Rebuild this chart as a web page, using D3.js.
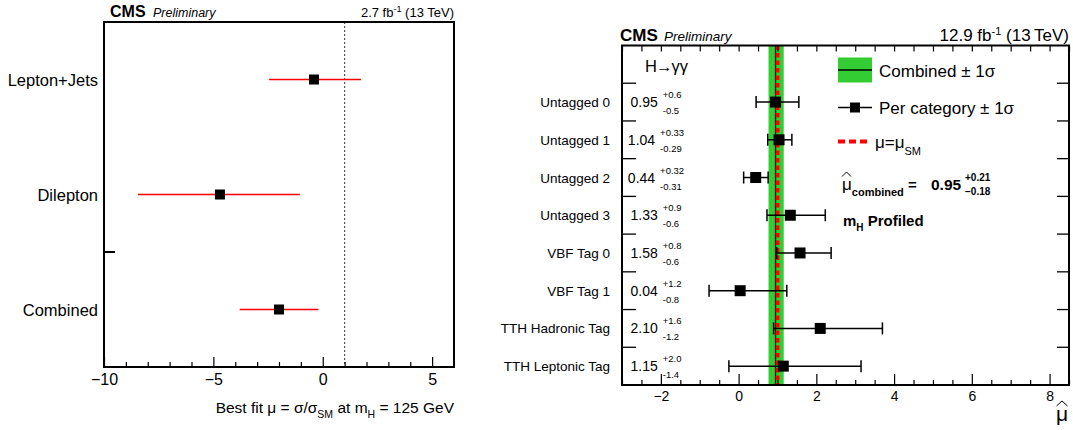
<!DOCTYPE html>
<html>
<head>
<meta charset="utf-8">
<script src="https://cdn.jsdelivr.net/npm/d3@7"></script>
<style>
  body { margin: 0; background: #fff; }
  svg { display: block; font-family: "Liberation Sans", Arial, Helvetica, sans-serif; }
</style>
</head>
<body>
<svg id="chart" width="1073" height="430"></svg>
<script>
// ---- left panel data (best fit mu per channel) ----
const leftCats = ["Lepton+Jets", "Dilepton", "Combined"];
const leftMu = [-0.4, -4.7, -2.0];
const leftLo = [-2.45, -8.45, -3.8];
const leftHi = [1.75, -1.05, -0.2];
const leftTicks = [-10, -5, 0, 5];

// ---- right panel data (H->gg per category) ----
const cats = ["Untagged 0", "Untagged 1", "Untagged 2", "Untagged 3",
              "VBF Tag 0", "VBF Tag 1", "TTH Hadronic Tag", "TTH Leptonic Tag"];
const muVals = [0.95, 1.04, 0.44, 1.33, 1.58, 0.04, 2.10, 1.15];
const errUp = [0.6, 0.33, 0.32, 0.9, 0.8, 1.2, 1.6, 2.0];
const errDn = [0.5, 0.29, 0.31, 0.6, 0.6, 0.8, 1.2, 1.4];
const muLabels = ["0.95", "1.04", "0.44", "1.33", "1.58", "0.04", "2.10", "1.15"];
const upLabels = ["+0.6", "+0.33", "+0.32", "+0.9", "+0.8", "+1.2", "+1.6", "+2.0"];
const dnLabels = ["-0.5", "-0.29", "-0.31", "-0.6", "-0.6", "-0.8", "-1.2", "-1.4"];
const rightTicks = [-2, 0, 2, 4, 6, 8];
const combMu = 0.95, combUp = 0.21, combDn = 0.18, smMu = 1;

const svg = d3.select("#chart");

// draws a wide ^ accent (ROOT style #hat)
function hat(g, cx, y, w, h) {
    g.append("path")
        .attr("d", `M${cx - w / 2},${y + h}L${cx},${y}L${cx + w / 2},${y + h}`)
        .attr("fill", "none").attr("stroke", "#000").attr("stroke-width", 1);
}

// ================= LEFT PANEL =================
const xL = d3.scaleLinear().domain([-10, 6]).range([104, 454]);
const yL = d3.scaleBand().domain(leftCats).range([22, 367]);
const gL = svg.append("g");

// SM reference line
gL.append("line")
    .attr("x1", xL(1)).attr("x2", xL(1))
    .attr("y1", yL.range()[0]).attr("y2", yL.range()[1])
    .attr("stroke", "#555").attr("stroke-width", 1.2)
    .attr("stroke-dasharray", "2,2");

// error bars + markers
gL.selectAll("line.err").data(leftCats).enter().append("line")
    .attr("class", "err")
    .attr("x1", (d, i) => xL(leftLo[i])).attr("x2", (d, i) => xL(leftHi[i]))
    .attr("y1", d => yL(d) + yL.bandwidth() / 2)
    .attr("y2", d => yL(d) + yL.bandwidth() / 2)
    .attr("stroke", "#f00").attr("stroke-width", 1.6);
gL.selectAll("rect.pt").data(leftCats).enter().append("rect")
    .attr("class", "pt")
    .attr("x", (d, i) => xL(leftMu[i]) - 5)
    .attr("y", d => yL(d) + yL.bandwidth() / 2 - 5)
    .attr("width", 10).attr("height", 10)
    .attr("fill", "#000");

// category labels
gL.selectAll("text.cat").data(leftCats).enter().append("text")
    .attr("class", "cat")
    .attr("x", 98)
    .attr("y", d => yL(d) + yL.bandwidth() / 2 + 6)
    .attr("text-anchor", "end")
    .attr("font-size", 16.5)
    .text(d => d);

// one stray y tick at boundary Dilepton/Combined
gL.append("line")
    .attr("x1", 104).attr("x2", 115)
    .attr("y1", yL("Combined")).attr("y2", yL("Combined"))
    .attr("stroke", "#000").attr("stroke-width", 2);

// x axis
const axL = gL.append("g").attr("transform", `translate(0,${yL.range()[1]})`)
    .call(d3.axisBottom(xL).tickValues(leftTicks).tickSize(-10).tickPadding(7)
        .tickFormat(d3.format("d")));
axL.select(".domain").remove();
axL.selectAll("text").attr("font-size", 16).attr("font-family", null).attr("fill", "#000");
axL.selectAll("line").attr("stroke-width", 1.2);
const axLm = gL.append("g").attr("transform", `translate(0,${yL.range()[1]})`)
    .call(d3.axisBottom(xL).tickValues(d3.range(-9, 6).filter(v => v % 5 !== 0))
        .tickSize(-5).tickFormat(""));
axLm.select(".domain").remove();
axLm.selectAll("line").attr("stroke-width", 1.2);

// frame
gL.append("rect")
    .attr("x", xL.range()[0]).attr("y", yL.range()[0])
    .attr("width", xL.range()[1] - xL.range()[0])
    .attr("height", yL.range()[1] - yL.range()[0])
    .attr("fill", "none").attr("stroke", "#000").attr("stroke-width", 2);

// header + title
gL.append("text").attr("x", 110).attr("y", 16.5)
    .attr("font-size", 16).attr("font-weight", "bold").text("CMS");
gL.append("text").attr("x", 153).attr("y", 16.5)
    .attr("font-size", 12.5).attr("font-style", "italic").text("Preliminary");
const lumiL = gL.append("text").attr("x", 454).attr("y", 16.5)
    .attr("text-anchor", "end").attr("font-size", 13);
lumiL.append("tspan").text("2.7 fb");
lumiL.append("tspan").attr("dy", -5).attr("font-size", 9).text("-1");
lumiL.append("tspan").attr("dy", 5).text(" (13 TeV)");

const titL = gL.append("text").attr("x", 454).attr("y", 413)
    .attr("text-anchor", "end").attr("font-size", 15.5);
titL.append("tspan").text("Best fit μ = σ/σ");
titL.append("tspan").attr("dy", 5).attr("font-size", 10.5).text("SM");
titL.append("tspan").attr("dy", -5).text(" at m");
titL.append("tspan").attr("dy", 5).attr("font-size", 10.5).text("H");
titL.append("tspan").attr("dy", -5).text(" = 125 GeV");

// ================= RIGHT PANEL =================
const xR = d3.scaleLinear().domain([-3, 8.5]).range([622, 1069]);
const yR = d3.scaleBand().domain(["top"].concat(cats)).range([45.5, 385]);
const gR = svg.append("g");
const yMid = d => yR(d) + yR.bandwidth() / 2;

// combined band
gR.append("rect")
    .attr("x", xR(combMu - combDn)).attr("width", xR(combMu + combUp) - xR(combMu - combDn))
    .attr("y", yR.range()[0]).attr("height", yR.range()[1] - yR.range()[0])
    .attr("fill", "#33cc33");
gR.append("line")
    .attr("x1", xR(combMu)).attr("x2", xR(combMu))
    .attr("y1", yR.range()[0]).attr("y2", yR.range()[1])
    .attr("stroke", "#000").attr("stroke-width", 1.3);
gR.append("line")
    .attr("x1", xR(smMu)).attr("x2", xR(smMu))
    .attr("y1", yR.range()[0]).attr("y2", yR.range()[1])
    .attr("stroke", "#f00").attr("stroke-width", 4)
    .attr("stroke-dasharray", "4.5,3");

// per-category error bars
const pts = gR.selectAll("g.pt").data(cats).enter().append("g").attr("class", "pt");
pts.append("line")
    .attr("x1", (d, i) => xR(muVals[i] - errDn[i]))
    .attr("x2", (d, i) => xR(muVals[i] + errUp[i]))
    .attr("y1", yMid).attr("y2", yMid)
    .attr("stroke", "#000").attr("stroke-width", 1.5);
pts.append("line")
    .attr("x1", (d, i) => xR(muVals[i] - errDn[i]))
    .attr("x2", (d, i) => xR(muVals[i] - errDn[i]))
    .attr("y1", d => yMid(d) - 6).attr("y2", d => yMid(d) + 6)
    .attr("stroke", "#000").attr("stroke-width", 1.5);
pts.append("line")
    .attr("x1", (d, i) => xR(muVals[i] + errUp[i]))
    .attr("x2", (d, i) => xR(muVals[i] + errUp[i]))
    .attr("y1", d => yMid(d) - 6).attr("y2", d => yMid(d) + 6)
    .attr("stroke", "#000").attr("stroke-width", 1.5);
pts.append("rect")
    .attr("x", (d, i) => xR(muVals[i]) - 5.5)
    .attr("y", d => yMid(d) - 5.5)
    .attr("width", 11).attr("height", 11)
    .attr("fill", "#000");

// category labels
gR.selectAll("text.cat").data(cats).enter().append("text")
    .attr("class", "cat")
    .attr("x", 610).attr("y", d => yMid(d) + 5)
    .attr("text-anchor", "end").attr("font-size", 13.5)
    .text(d => d);

// value labels with asymmetric errors
cats.forEach((c, i) => {
    const g = gR.append("g");
    const v = g.append("text").attr("x", 0).attr("y", yMid(c) + 5)
        .attr("font-size", 14).text(muLabels[i]);
    const w = v.node().getComputedTextLength() + 5;
    const su = g.append("text").attr("x", w).attr("y", yMid(c) - 4)
        .attr("font-size", 9.5).text(upLabels[i]);
    const sd = g.append("text").attr("x", w).attr("y", yMid(c) + 12)
        .attr("font-size", 9.5).text(dnLabels[i]);
    const tot = w + Math.max(su.node().getComputedTextLength(), sd.node().getComputedTextLength());
    g.attr("transform", `translate(${656 - tot / 2},0)`);
});

// y ticks at category boundaries, left and right
gR.selectAll("line.yl").data(cats).enter().append("line")
    .attr("x1", xR.range()[0]).attr("x2", xR.range()[0] + 14)
    .attr("y1", d => yR(d)).attr("y2", d => yR(d))
    .attr("stroke", "#000").attr("stroke-width", 1.3);
gR.selectAll("line.yr").data(cats).enter().append("line")
    .attr("x1", xR.range()[1]).attr("x2", xR.range()[1] - 12)
    .attr("y1", d => yR(d)).attr("y2", d => yR(d))
    .attr("stroke", "#000").attr("stroke-width", 1.3);

// x axis bottom
const minorR = d3.range(-3, 8.51, 0.5).filter(v => v % 2 !== 0);
const axR = gR.append("g").attr("transform", `translate(0,${yR.range()[1]})`)
    .call(d3.axisBottom(xR).tickValues(rightTicks).tickSize(-11).tickPadding(6)
        .tickFormat(d3.format("d")));
axR.select(".domain").remove();
axR.selectAll("text").attr("font-size", 14).attr("font-family", null).attr("fill", "#000");
axR.selectAll("line").attr("stroke-width", 1.2);
const axRm = gR.append("g").attr("transform", `translate(0,${yR.range()[1]})`)
    .call(d3.axisBottom(xR).tickValues(minorR).tickSize(-5).tickFormat(""));
axRm.select(".domain").remove();
axRm.selectAll("line").attr("stroke-width", 1.2);
// x axis top
const axRt = gR.append("g").attr("transform", `translate(0,${yR.range()[0]})`)
    .call(d3.axisTop(xR).tickValues(rightTicks.concat(minorR)).tickSize(-6).tickFormat(""));
axRt.select(".domain").remove();
axRt.selectAll("line").attr("stroke-width", 1.2);

// frame
gR.append("rect")
    .attr("x", xR.range()[0]).attr("y", yR.range()[0])
    .attr("width", xR.range()[1] - xR.range()[0])
    .attr("height", yR.range()[1] - yR.range()[0])
    .attr("fill", "none").attr("stroke", "#000").attr("stroke-width", 2);

// channel label
const hgg = gR.append("text").attr("x", 645).attr("y", 72).attr("font-size", 16.5);
hgg.append("tspan").text("H");
hgg.append("tspan").attr("dx", -1).text("→");
hgg.append("tspan").attr("dx", -1).text("γγ");

// legend
const lx = 838, lw = 34;
gR.append("rect").attr("x", lx).attr("y", 57.5).attr("width", lw).attr("height", 25)
    .attr("fill", "#33cc33");
gR.append("line").attr("x1", lx).attr("x2", lx + lw).attr("y1", 70).attr("y2", 70)
    .attr("stroke", "#000").attr("stroke-width", 1.3);
gR.append("text").attr("x", 879).attr("y", 76.5).attr("font-size", 17).text("Combined ± 1σ");

gR.append("line").attr("x1", lx).attr("x2", lx + lw).attr("y1", 107.5).attr("y2", 107.5)
    .attr("stroke", "#000").attr("stroke-width", 1.5);
gR.append("rect").attr("x", lx + lw / 2 - 5).attr("y", 102.5).attr("width", 10).attr("height", 10)
    .attr("fill", "#000");
gR.append("text").attr("x", 879).attr("y", 113.5).attr("font-size", 17).text("Per category ± 1σ");

gR.append("line").attr("x1", lx).attr("x2", lx + 30).attr("y1", 141.5).attr("y2", 141.5)
    .attr("stroke", "#f00").attr("stroke-width", 4).attr("stroke-dasharray", "7,4");
const smT = gR.append("text").attr("x", 875).attr("y", 148).attr("font-size", 17);
smT.append("tspan").text("μ=μ");
smT.append("tspan").attr("dy", 7).attr("font-size", 11).text("SM");

const mc = gR.append("text").attr("x", 842).attr("y", 190).attr("font-size", 17);
mc.append("tspan").text("μ");
mc.append("tspan").attr("dy", 6).attr("font-size", 11).attr("font-weight", "bold").text("combined");
mc.append("tspan").attr("dy", -6).attr("font-weight", "bold").attr("font-size", 15).text(" =");
hat(gR, 846.5, 172, 9, 4.5);
gR.append("text").attr("x", 931).attr("y", 190).attr("font-size", 15.5)
    .attr("font-weight", "bold").text(combMu.toFixed(2));
gR.append("text").attr("x", 965).attr("y", 180.5).attr("font-size", 10)
    .attr("font-weight", "bold").text("+" + combUp.toFixed(2));
gR.append("text").attr("x", 965).attr("y", 194.5).attr("font-size", 10)
    .attr("font-weight", "bold").text("−" + combDn.toFixed(2));

const mh = gR.append("text").attr("x", 843).attr("y", 225.5).attr("font-size", 15)
    .attr("font-weight", "bold");
mh.append("tspan").text("m");
mh.append("tspan").attr("dy", 5).attr("font-size", 10).text("H");
mh.append("tspan").attr("dy", -5).text(" Profiled");

// header
gR.append("text").attr("x", 620).attr("y", 40.5)
    .attr("font-size", 17).attr("font-weight", "bold").text("CMS");
gR.append("text").attr("x", 664).attr("y", 40.5)
    .attr("font-size", 13.5).attr("font-style", "italic").text("Preliminary");
const lumiR = gR.append("text").attr("x", 1069).attr("y", 40.5)
    .attr("text-anchor", "end").attr("font-size", 17);
lumiR.append("tspan").text("12.9 fb");
lumiR.append("tspan").attr("dy", -6).attr("font-size", 11).text("-1");
lumiR.append("tspan").attr("dy", 6).text(" (13\u2009TeV)");

// x title
gR.append("text").attr("x", 1062).attr("y", 421).attr("text-anchor", "middle")
    .attr("font-size", 21).text("μ");
hat(gR, 1062, 401, 11, 5);
</script>
</body>
</html>
